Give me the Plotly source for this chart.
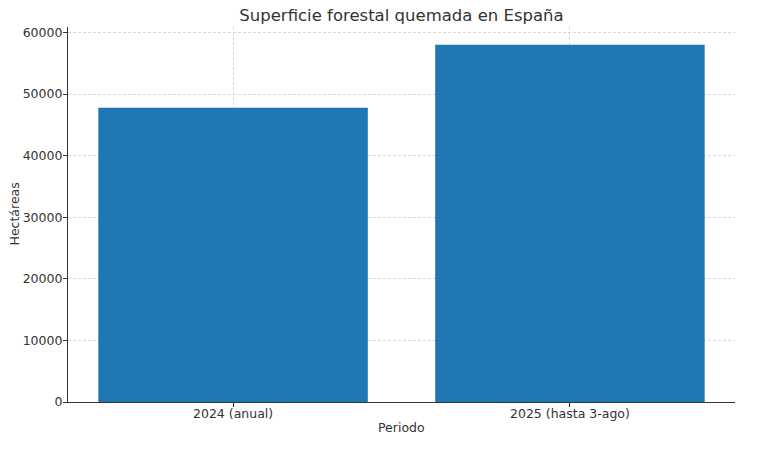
import plotly.graph_objects as go

categorias = ["2024 (anual)", "2025 (hasta 3-ago)"]
hectareas = [47800, 58000]
y_ticks = [0, 10000, 20000, 30000, 40000, 50000, 60000]

fig = go.Figure(go.Bar(
    x=[0, 1], y=hectareas, width=0.8,
    marker=dict(color="#1f77b4", line=dict(width=0)),
))

font_fam = "DejaVu Sans"
L, R, T, B = 68, 33, 27, 54
pw, ph = 768 - L - R, 456 - T - B
fig.update_layout(
    width=768, height=456,
    margin=dict(l=L, r=R, t=T, b=B),
    paper_bgcolor="white", plot_bgcolor="white",
    font=dict(family=font_fam, size=12.5, color="#333333"),
    title=dict(text="Superficie forestal quemada en España", x=(L + 768 - R) / 2 / 768, xanchor="center",
               y=1 - 15 / 456, yanchor="middle", font=dict(size=16.5, color="#333333")),
    showlegend=False,
    bargap=0.2,
    annotations=[
        dict(text="Hectáreas", xref="paper", yref="paper", x=(14 - L) / pw, y=0.5,
             xanchor="center", yanchor="middle", textangle=-90, showarrow=False,
             font=dict(size=12.5, color="#333333")),
        dict(text="Periodo", xref="paper", yref="paper", x=0.5, y=-(427 - (T + ph)) / ph,
             xanchor="center", yanchor="middle", showarrow=False,
             font=dict(size=12.5, color="#333333")),
    ],
)
fig.update_xaxes(
    range=[-0.49, 1.49], tickmode="array", tickvals=[0, 1], ticktext=categorias,
    showline=True, linecolor="#333333", linewidth=1.2, mirror=False,
    ticks="outside", ticklen=4, tickcolor="#333333", ticklabelstandoff=-4,
    showgrid=True, gridcolor="#d8d8d8", griddash="3px,2px", gridwidth=0.8,
    zeroline=False, layer="above traces", automargin=False,
)
fig.update_yaxes(
    range=[0, 60900], tickmode="array", tickvals=y_ticks,
    ticktext=[str(v) for v in y_ticks],
    showline=True, linecolor="#333333", linewidth=1.2,
    ticks="outside", ticklen=4, tickcolor="#333333", ticklabelstandoff=-2,
    showgrid=True, gridcolor="#d8d8d8", griddash="3px,2px", gridwidth=0.8,
    zeroline=False, layer="above traces", automargin=False,
)

fig.write_html("out.html")
